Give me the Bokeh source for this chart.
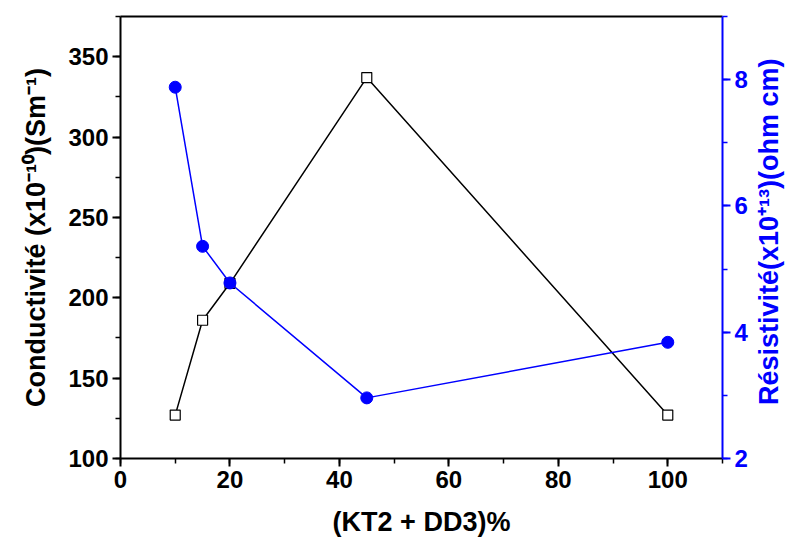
import math
from bokeh.plotting import figure
from bokeh.layouts import row
from bokeh.models import (LinearAxis, Range1d, SingleIntervalTicker, FixedTicker)
from bokeh.core.properties import value
from bokeh.embed import file_html
from bokeh.resources import INLINE

# ---- data ----
composition = [10, 15, 20, 45, 100]          # (KT2 + DD3)%
conductivity = [127, 186, 209, 337, 127]     # x10^-10 S/m
resistivity = [7.88, 5.36, 4.78, 2.96, 3.84] # x10^13 ohm cm

x_label = "(KT2 + DD3)%"
left_label = "Conductivité (x10⁻¹⁰)(Sm⁻¹)"
right_label = "Résistivité(x10⁺¹³)(ohm cm)"

FONT = "Liberation Sans"
BLUE = "#0000FF"

FRAME_W, FRAME_H = 602, 442
B_LEFT, B_RIGHT, B_TOP, B_BOTTOM = 120, 30, 16, 84
TOTAL_H = B_TOP + FRAME_H + B_BOTTOM

p = figure(frame_width=FRAME_W, frame_height=FRAME_H,
           min_border_left=B_LEFT, min_border_right=B_RIGHT,
           min_border_top=B_TOP, min_border_bottom=B_BOTTOM,
           x_range=Range1d(0, 110), y_range=Range1d(100, 375),
           output_backend="svg", toolbar_location=None,
           x_axis_location=None, y_axis_location=None)
p.outline_line_color = None
p.grid.visible = False
p.background_fill_color = "white"
p.border_fill_color = "white"
p.extra_y_ranges = {"res": Range1d(2, 9)}


def style(ax, color, label_size="24px", title_size="27px"):
    ax.axis_line_color = color
    ax.axis_line_width = 2
    ax.major_tick_line_color = color
    ax.minor_tick_line_color = color
    ax.major_tick_line_width = 2
    ax.minor_tick_line_width = 1.5
    ax.major_tick_out = 8
    ax.major_tick_in = 0
    ax.minor_tick_out = 5
    ax.minor_tick_in = 0
    ax.major_label_text_font = FONT
    ax.major_label_text_font_style = "bold"
    ax.major_label_text_font_size = label_size
    ax.major_label_text_color = color
    ax.axis_label_text_font = FONT
    ax.axis_label_text_font_style = "bold"
    ax.axis_label_text_font_size = title_size
    ax.axis_label_text_color = color


xaxis = LinearAxis(ticker=SingleIntervalTicker(interval=20, num_minor_ticks=2),
                   axis_label=x_label)
style(xaxis, "black")
xaxis.major_label_standoff = 4
xaxis.axis_label_standoff = 16
p.add_layout(xaxis, "below")

yaxis = LinearAxis(ticker=SingleIntervalTicker(interval=50, num_minor_ticks=2),
                   axis_label=left_label)
style(yaxis, "black")
yaxis.major_label_standoff = 4
yaxis.axis_label_standoff = 14
p.add_layout(yaxis, "left")

raxis = LinearAxis(y_range_name="res",
                   ticker=SingleIntervalTicker(interval=2, num_minor_ticks=2))
style(raxis, BLUE)
raxis.major_label_standoff = 4
p.add_layout(raxis, "right")

top = LinearAxis(ticker=FixedTicker(ticks=[]))
top.axis_line_color = "black"
top.axis_line_width = 2
top.major_label_text_font_size = "0px"
p.add_layout(top, "above")

# conductivity series (black open squares)
p.line(composition, conductivity, line_color="black", line_width=1.5)
p.scatter(composition, conductivity, marker="square", size=10,
          line_color="black", fill_color="white", line_width=1.2)

# resistivity series (blue filled circles)
p.line(composition, resistivity, line_color=BLUE, line_width=1.5,
       y_range_name="res")
p.scatter(composition, resistivity, marker="circle", size=12,
          line_color=BLUE, fill_color=BLUE, y_range_name="res")

# narrow side panel carrying the right-axis title (reads bottom-to-top)
side_w = 33
side = figure(width=side_w, height=TOTAL_H,
              x_range=Range1d(0, side_w), y_range=Range1d(0, TOTAL_H),
              output_backend="svg", toolbar_location=None,
              min_border=0, outline_line_color=None)
side.axis.visible = False
side.grid.visible = False
side.background_fill_color = "white"
side.border_fill_color = "white"
side.text(x=[side_w / 2], y=[TOTAL_H - (B_TOP + FRAME_H / 2) - 27],
          text=[right_label], angle=math.pi / 2,
          text_align="center", text_baseline="middle",
          text_font=value(FONT), text_font_style="bold",
          text_font_size="27px", text_color=BLUE)

layout = row(p, side, spacing=0)
open("out.html", "w").write(file_html(layout, INLINE))
